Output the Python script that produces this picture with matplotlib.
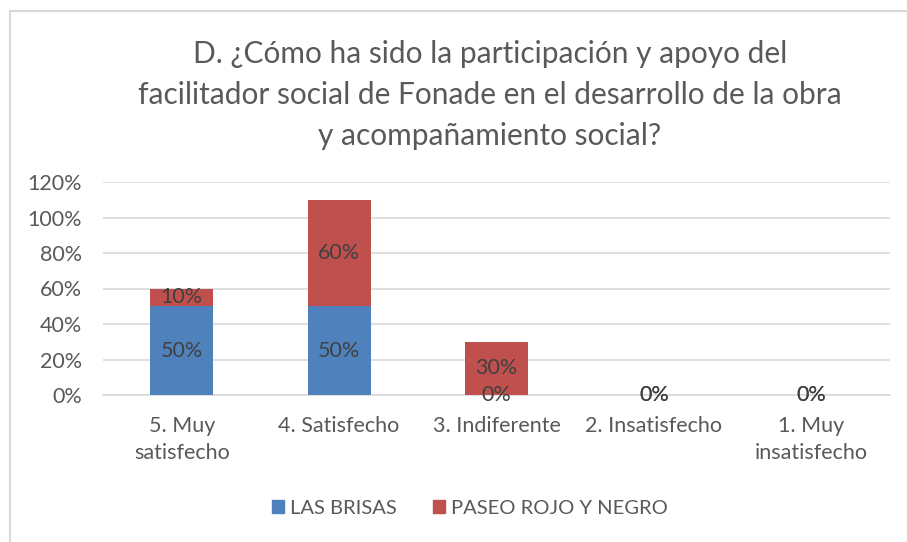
import numpy as np
import matplotlib.pyplot as plt
from matplotlib.lines import Line2D
from matplotlib.patches import Patch

# Datos del grafico
categorias = ['5. Muy\nsatisfecho', '4. Satisfecho', '3. Indiferente', '2. Insatisfecho', '1. Muy\ninsatisfecho']
las_brisas = [50, 50, 0, 0, 0]
paseo_rojo_negro = [10, 60, 30, 0, 0]
series = ['LAS BRISAS', 'PASEO ROJO Y NEGRO']
titulo = 'D. ¿Cómo ha sido la participación y apoyo del\nfacilitador social de Fonade en el desarrollo de la obra\ny acompañamiento social?'

azul = '#4F81BD'
rojo = '#C0504D'
gris_txt = '#595959'
gris_lbl = '#404040'

plt.rcParams['font.family'] = ['Lato', 'DejaVu Sans']

fig = plt.figure(figsize=(9.07, 5.42), dpi=100)
ax = fig.add_axes([103/907, 1-395/542, 787/907, 213/542])

x = np.arange(len(categorias))
b1 = ax.bar(x, las_brisas, width=0.4, color=azul, zorder=3)
b2 = ax.bar(x, paseo_rojo_negro, width=0.4, bottom=las_brisas, color=rojo, zorder=3)

# etiquetas de datos
for i in range(len(categorias)):
    ax.text(x[i], las_brisas[i]/2, f'{las_brisas[i]}%', ha='center', va='center',
            fontsize=15.5, color=gris_lbl, zorder=4)
    ax.text(x[i], las_brisas[i] + paseo_rojo_negro[i]/2, f'{paseo_rojo_negro[i]}%',
            ha='center', va='center', fontsize=15.5, color=gris_lbl, zorder=4)

ax.set_ylim(0, 120)
ax.set_xlim(-0.5, len(categorias)-0.5)
ax.set_yticks(range(0, 121, 20))
ax.set_yticklabels([f'{v}%' for v in range(0, 121, 20)])
ax.set_xticks(x)
ax.set_xticklabels(categorias, linespacing=1.45)
ax.tick_params(axis='both', length=0, labelsize=15.5, colors=gris_txt)
ax.tick_params(axis='y', pad=15)
ax.tick_params(axis='x', pad=15)
ax.grid(axis='y', color='#D9D9D9', linewidth=1.2, zorder=0)
for s in ['top', 'right', 'left']:
    ax.spines[s].set_visible(False)
ax.spines['bottom'].set_color('#D9D9D9')
ax.spines['bottom'].set_linewidth(1.2)

fig.text(490/907, 1-95/542, titulo, ha='center', va='center', fontsize=21.5,
         color=gris_txt, linespacing=1.55)

handles = [Patch(color=azul), Patch(color=rojo)]
fig.legend(handles, series, loc='center', bbox_to_anchor=(470/907, 1-508/542), ncol=2,
           frameon=False, fontsize=14.5, labelcolor=gris_txt, handlelength=0.6,
           handleheight=0.6, handletextpad=0.3, columnspacing=1.8)

# borde del area del grafico
fig.add_artist(Line2D([10/907, 10/907], [0, 1-11/542], color='#D9D9D9', lw=1.5))
fig.add_artist(Line2D([10/907, 1], [1-11/542, 1-11/542], color='#D9D9D9', lw=1.5))

fig.savefig('out.png', dpi=100)
